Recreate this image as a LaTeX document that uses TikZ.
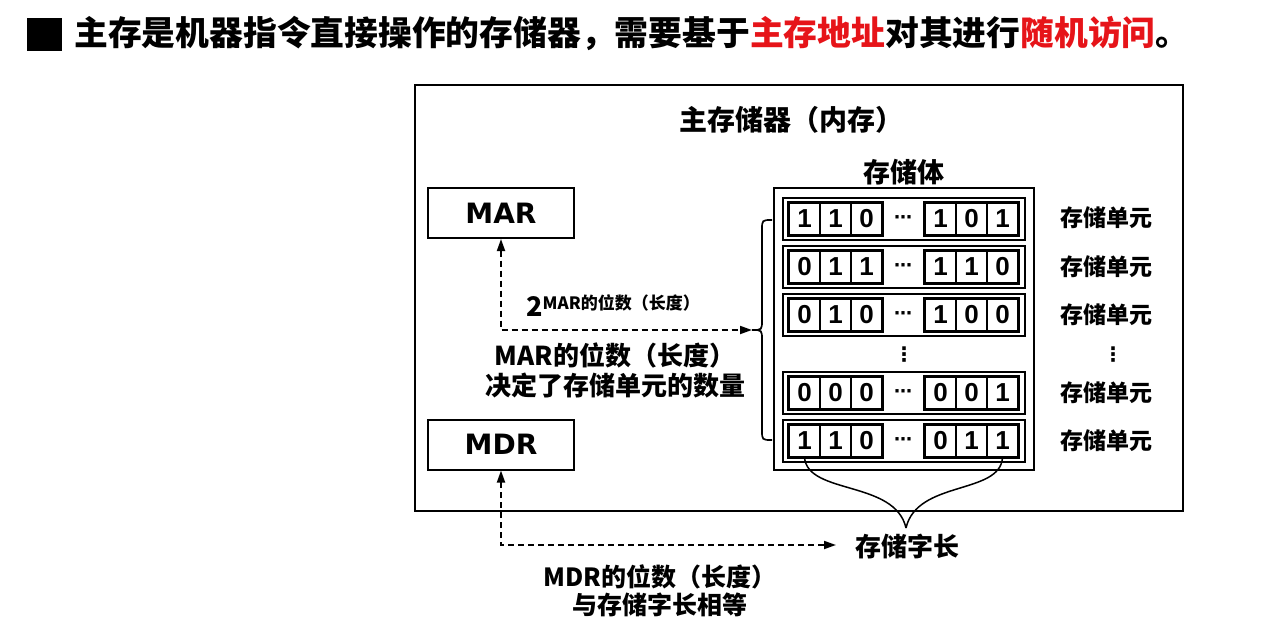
\documentclass[tikz,border=0pt]{standalone}
\usepackage{fontspec}
\newfontfamily\cjk{Noto Sans CJK SC}
\newfontfamily\dig{Liberation Sans}
\newfontfamily\dvs{DejaVu Sans}
\usetikzlibrary{arrows.meta}
\definecolor{tred}{RGB}{230,20,25}
\begin{document}
\begin{tikzpicture}[x=1pt,y=-1pt,
 regbox/.style={draw,line width=2pt,minimum width=146pt,minimum height=50pt,inner sep=0pt,font=\dvs\bfseries\fontsize{28}{30}\selectfont},
 lbl/.style={font=\cjk\bfseries\fontsize{25}{28}\selectfont,align=center,inner sep=0pt},
 unitlbl/.style={font=\cjk\bfseries\fontsize{23}{28}\selectfont,inner sep=0pt},
 dasharrow/.style={dash pattern=on 6pt off 4pt,line width=1.8pt,{Triangle[length=12pt,width=8pt]}-{Triangle[length=12pt,width=8pt]}},
 cell/.style={draw,line width=1.2pt,minimum width=31pt,minimum height=32pt,inner sep=0pt,font=\dig\bfseries\fontsize{26}{26}\selectfont},
 rowbox/.style={draw,line width=1.6pt,minimum width=242pt,minimum height=42pt,inner sep=0pt},
 grp/.style={draw,line width=2.2pt},
 brace/.style={draw,line width=1.7pt},
]
\useasboundingbox (0,0) rectangle (1278,642);
% title
\fill (27,18) rectangle (62,51);
\node[anchor=base west,inner sep=0pt,font=\cjk\bfseries\fontsize{33.8}{36}\selectfont] (title) at (74,46)
 {主存是机器指令直接操作的存储器，需要基于\textcolor{tred}{主存地址}对其进行\textcolor{tred}{随机访问}。};
% main box
\node[draw,line width=2pt,minimum width=768pt,minimum height=426pt,inner sep=0pt] (mainbox) at (799,298) {};
\node[lbl,font=\cjk\bfseries\fontsize{28}{30}\selectfont] (mainlbl) at (791,120) {主存储器（内存）};
% registers
\node[regbox] (mar) at (501,213) {MAR};
\node[regbox] (mdr) at (501,444.5) {MDR};
% storage body
\node[draw,line width=2pt,minimum width=260pt,minimum height=282pt,inner sep=0pt] (body) at (904,329) {};
\node[lbl,font=\cjk\bfseries\fontsize{27}{30}\selectfont] (bodylbl) at (904,172) {存储体};
\foreach \t/\da/\db/\dc/\dd/\de/\df [count=\i] in {198/1/1/0/1/0/1, 246/0/1/1/1/1/0, 294/0/1/0/1/0/0, 372/0/0/0/0/0/1, 420/1/1/0/0/1/1} {
  \node[rowbox] (row\i) at (904,\t+21) {};
  \node[cell] (a\i) at (804.5,\t+21) {\da};
  \node[cell] (b\i) at (835.5,\t+21) {\db};
  \node[cell] (c\i) at (866.5,\t+21) {\dc};
  \node[cell] (d\i) at (940.5,\t+21) {\dd};
  \node[cell] (e\i) at (971.5,\t+21) {\de};
  \node[cell] (f\i) at (1002.5,\t+21) {\df};
  \draw[grp] (a\i.north west) rectangle (c\i.south east);
  \draw[grp] (d\i.north west) rectangle (f\i.south east);
  \node[inner sep=0pt,font=\dvs\bfseries\fontsize{18}{18}\selectfont] (dots\i) at (903,\t+22) {⋯};
}
\node[inner sep=0pt,font=\dvs\bfseries\fontsize{20}{20}\selectfont] (vdots) at (904,355) {⋮};
% unit labels
\foreach \y [count=\i] in {218,267,315,393,441} {
  \node[unitlbl] (u\i) at (1106,\y) {存储单元};
}
\node[inner sep=0pt,font=\dvs\bfseries\fontsize{20}{20}\selectfont] (uvdots) at (1113,355) {⋮};
% left brace
\coordinate (bt) at (752,330);
\draw[brace] (772,220) .. controls (762,220) .. (762,230) -- (762,320) .. controls (762,330) .. (bt)
  .. controls (762,330) .. (762,340) -- (762,430) .. controls (762,440) .. (772,440);
% MAR arrow and labels
\draw[dasharrow] (mar.south) |- (bt);
\node[anchor=base west,inner sep=0pt] (explbl) at (526,316)
 {\cjk\bfseries\fontsize{27}{30}\selectfont 2\raisebox{7pt}{\fontsize{17}{20}\selectfont MAR的位数（长度）}};
\node[lbl,font=\cjk\bfseries\fontsize{26}{30}\selectfont] (mardesc) at (615,370) {MAR的位数（长度）\\决定了存储单元的数量};
% word length
\node[lbl,font=\cjk\bfseries\fontsize{26}{30}\selectfont] (wl) at (907,547) {存储字长};
\coordinate (wltip) at (906,528);
\coordinate (wlend) at (836,545);
\draw[brace,line width=1.5pt] (a5.south) .. controls (808,495) and (895,480) .. (wltip);
\draw[brace,line width=1.5pt] (f5.south) .. controls (1000,495) and (917,480) .. (wltip);
\draw[dasharrow] (mdr.south) |- (wlend);
\node[lbl,font=\cjk\bfseries\fontsize{25}{28}\selectfont] (mdrdesc) at (660,591) {MDR的位数（长度）\\与存储字长相等};
\end{tikzpicture}
\end{document}
